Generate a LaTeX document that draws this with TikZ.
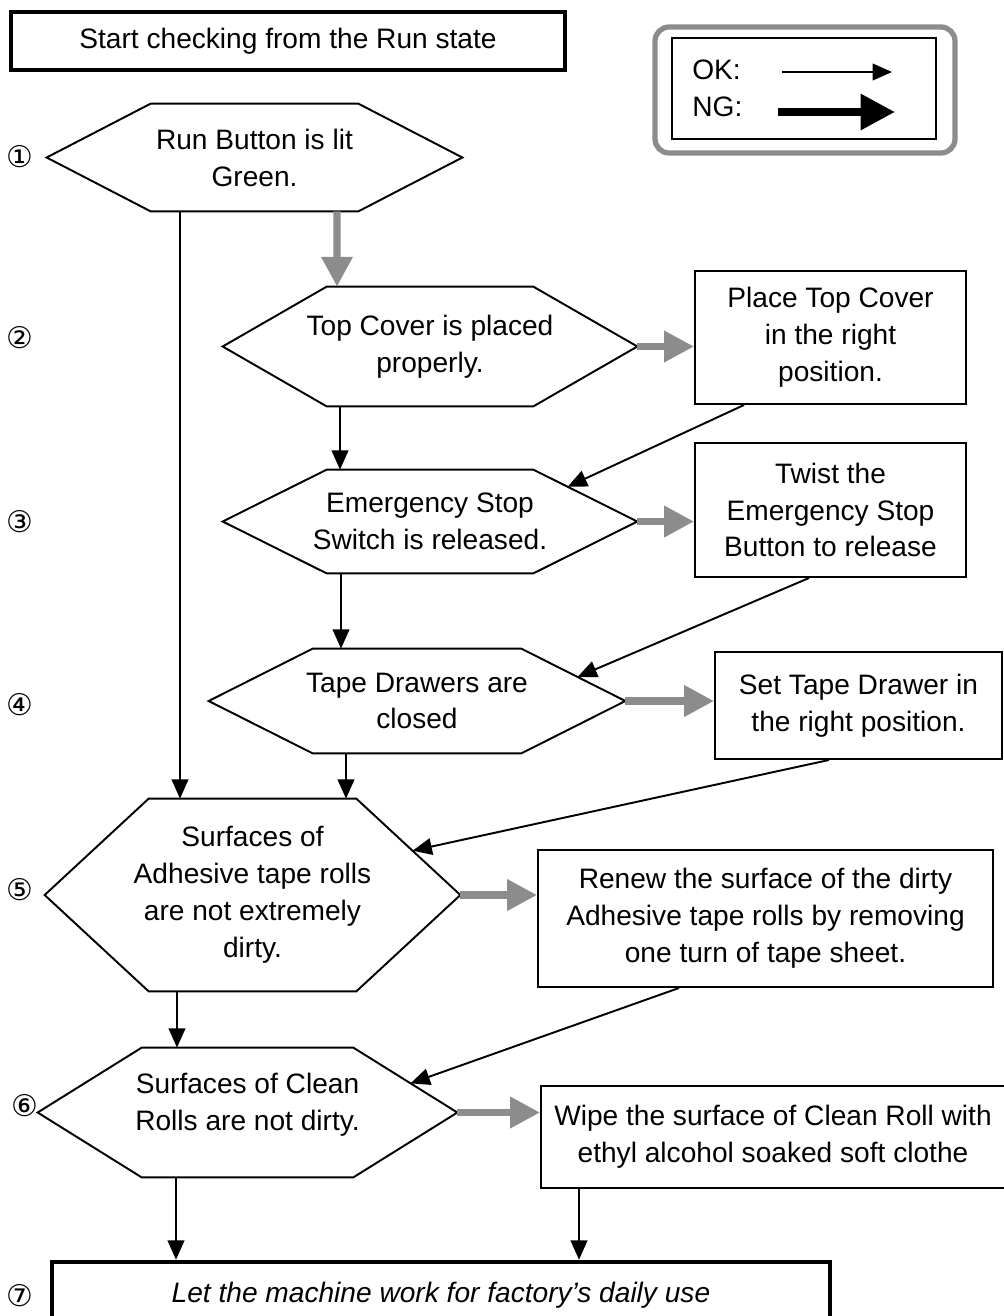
\documentclass[tikz,border=0pt]{standalone}
\usepackage{fontspec}
\setmainfont{Liberation Sans}
\newfontfamily\circfont{DejaVu Sans}
\usetikzlibrary{arrows.meta,calc}

\begin{document}
\begin{tikzpicture}[x=0.02cm, y=-0.02cm,
      every node/.append style={font=\fontsize{16}{21}\selectfont, align=center, inner sep=0pt},
      hexq/.style 2 args={minimum width=#1*0.02cm, minimum height=#2*0.02cm},
      stepbox/.style 2 args={draw, line width=1.1pt, minimum width=#1*0.02cm, minimum height=#2*0.02cm},
      endbox/.style 2 args={stepbox={#1}{#2}, line width=2.6pt},
      ok/.style={line width=1.1pt, -{Triangle[width=9.5pt,length=11pt]}},
      ng/.style={draw=black!45, line width=4pt, -{Triangle[width=17pt,length=17pt]}}]
    \tikzstyle{num} = [font=\circfont\fontsize{17}{17}\selectfont]
    \clip (0,0) rectangle (1004,1316);
    \node[endbox={554}{58}] (start) at (288,41) {Start checking from the Run state};
    \node[hexq={415}{107}] (runlit) at (254.5,157.5) {Run Button is lit\\Green.};
    \node[hexq={414}{119}] (cover) at (430,346.5) {Top Cover is placed\\properly.};
    \node[stepbox={271}{133}] (fixcover) at (830.5,337.5) {Place Top Cover\\in the right\\position.};
    \node[hexq={414}{103}] (estop) at (430,521.5) {Emergency Stop\\Switch is released.};
    \node[stepbox={271}{134}] (twist) at (830.5,510) {Twist the\\Emergency Stop\\Button to release};
    \node[hexq={416}{104}] (drawers) at (417,701) {Tape Drawers are\\closed};
    \node[stepbox={287}{107}] (setdrawer) at (858.5,705.5) {Set Tape Drawer in\\the right position.};
    \node[hexq={415}{192}] (tape) at (252.5,895) {Surfaces of\\Adhesive tape rolls\\are not extremely\\dirty.};
    \node[stepbox={455}{137}] (renew) at (765.5,918.5) {Renew the surface of the dirty\\Adhesive tape rolls by removing\\one turn of tape sheet.};
    \node[hexq={419}{129}] (clean) at (247.5,1112.5) {Surfaces of Clean\\Rolls are not dirty.\rule[-12pt]{0pt}{0pt}};
    \node[stepbox={464}{102}] (wipe) at (773,1137) {Wipe the surface of Clean Roll with\\ethyl alcohol soaked soft clothe};
    \node[endbox={778}{66}] (daily) at (441,1295) {\itshape Let the machine work for factory's daily use};

    \foreach \h in {runlit,cover,estop,drawers,tape,clean}
      \draw[line width=1.1pt] (\h.west) -- ($(\h.north west)+(104,0)$) -- ($(\h.north east)+(-104,0)$)
        -- (\h.east) -- ($(\h.south east)+(-104,0)$) -- ($(\h.south west)+(104,0)$) -- cycle;

    \node[num] (n1) at (20,157) {①};
    \node[num] (n2) at (20,338) {②};
    \node[num] (n3) at (20,522) {③};
    \node[num] (n4) at (20,705) {④};
    \node[num] (n5) at (20,890) {⑤};
    \node[num] (n6) at (25,1106) {⑥};
    \node[num] (n7) at (20,1296) {⑦};

    \draw[black!45, line width=3pt, rounded corners=8pt] (655,27) rectangle (955,153);
    \node[stepbox={264}{101}] (legend) at (804,88.5) {};
    \node[anchor=west] (okl) at (692,70) {OK:};
    \node[anchor=west] (ngl) at (692,107) {NG:};
    \coordinate (oka) at (782,72);
    \coordinate (okb) at (892,72);
    \coordinate (nga) at (778,112);
    \coordinate (ngb) at (895,112);
    \draw[ok] (oka) -- (okb);
    \draw[line width=4.5pt, -{Triangle[width=19.5pt,length=19.5pt]}] (nga) -- (ngb);

    \draw[ng] ($(runlit.south)+(82.5,0)$) -- ($(cover.north)+(-93,0)$);
    \draw[ng] (cover.east) -- (cover.east -| fixcover.west);
    \draw[ng] (estop.east) -- (estop.east -| twist.west);
    \draw[ng] (drawers.east) -- (drawers.east -| setdrawer.west);
    \draw[ng] (tape.east) -- (tape.east -| renew.west);
    \draw[ng] (clean.east) -- (clean.east -| wipe.west);

    \draw[ok] ($(runlit.south)+(-74.5,0)$) -- ($(tape.north)+(-72.5,0)$);
    \draw[ok] ($(cover.south)+(-90,0)$) -- ($(estop.north)+(-90,0)$);
    \draw[ok] ($(estop.south)+(-89,0)$) -- ($(drawers.north)+(-76,0)$);
    \draw[ok] ($(drawers.south)+(-71,0)$) -- ($(tape.north)+(93.5,0)$);
    \draw[ok] ($(tape.south)+(-75.5,0)$) -- ($(clean.north)+(-70.5,0)$);
    \draw[ok] ($(clean.south)+(-71.5,0)$) -- ($(daily.north)+(-265,0)$);
    \draw[ok] ($(wipe.south)+(-194,0)$) -- ($(daily.north)+(138,0)$);

    \draw[ok] ($(fixcover.south west)+(50,0)$) -- ($(estop.north east)!0.33!(estop.east)+(-69.7,0)$);
    \draw[ok] ($(twist.south west)+(115,0)$) -- ($(drawers.north east)!0.54!(drawers.east)+(-47.8,0)$);
    \draw[ok] ($(setdrawer.south west)+(115,0)$) -- ($(tape.north east)!0.54!(tape.east)+(-47.8,0)$);
    \draw[ok] ($(renew.south west)+(142,0)$) -- ($(clean.north east)!0.55!(clean.east)+(-46.8,0)$);
\end{tikzpicture}
\end{document}
